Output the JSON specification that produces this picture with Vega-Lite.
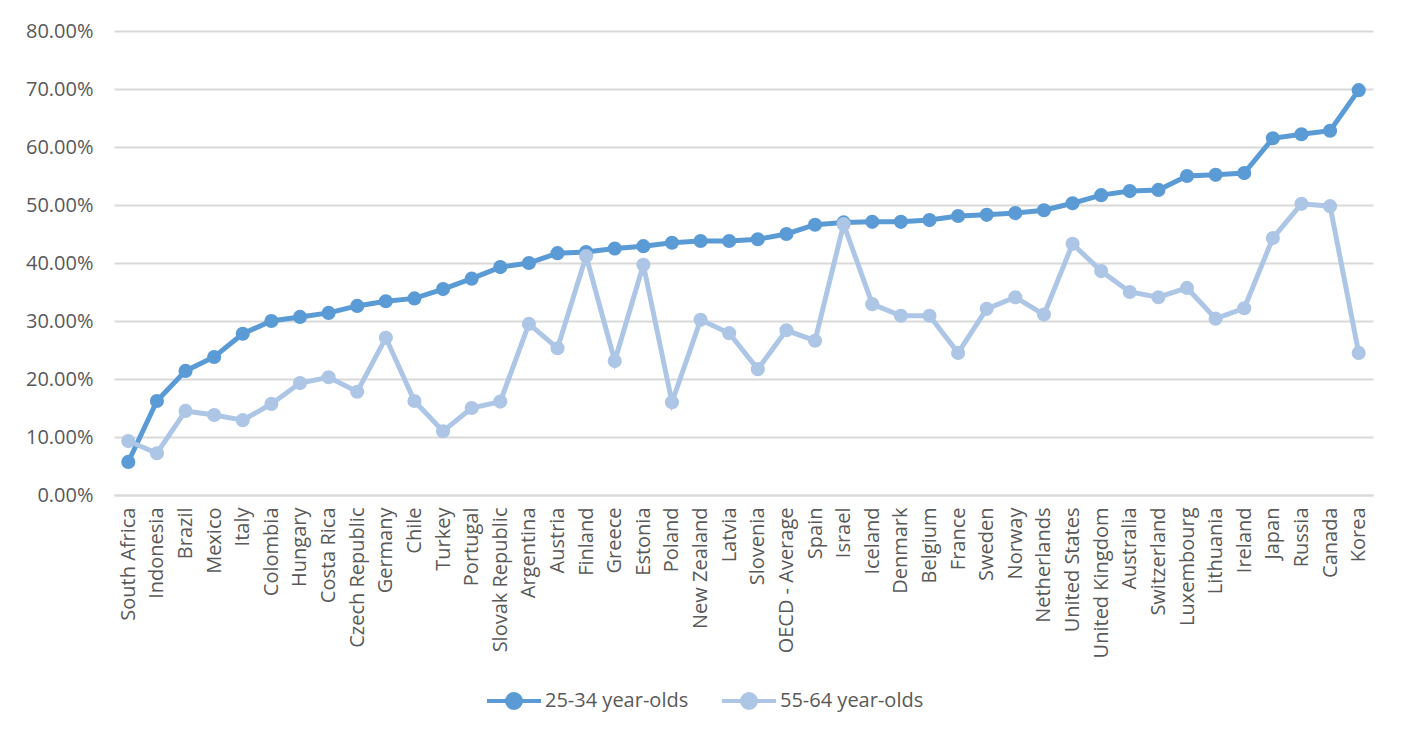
{
  "$schema": "https://vega.github.io/schema/vega-lite/v6.json",
  "width": 1259,
  "height": 464,
  "autosize": {"type": "none"},
  "padding": {"left": 114, "top": 31, "right": 29, "bottom": 243},
  "background": "white",
  "config": {
    "font": "Open Sans",
    "view": {"stroke": null}
  },
  "data": {
    "values": [
      {"country": "South Africa", "series": "25-34 year-olds", "value": 0.057},
      {"country": "Indonesia", "series": "25-34 year-olds", "value": 0.162},
      {"country": "Brazil", "series": "25-34 year-olds", "value": 0.214},
      {"country": "Mexico", "series": "25-34 year-olds", "value": 0.238},
      {"country": "Italy", "series": "25-34 year-olds", "value": 0.278},
      {"country": "Colombia", "series": "25-34 year-olds", "value": 0.300},
      {"country": "Hungary", "series": "25-34 year-olds", "value": 0.307},
      {"country": "Costa Rica", "series": "25-34 year-olds", "value": 0.314},
      {"country": "Czech Republic", "series": "25-34 year-olds", "value": 0.326},
      {"country": "Germany", "series": "25-34 year-olds", "value": 0.334},
      {"country": "Chile", "series": "25-34 year-olds", "value": 0.339},
      {"country": "Turkey", "series": "25-34 year-olds", "value": 0.355},
      {"country": "Portugal", "series": "25-34 year-olds", "value": 0.373},
      {"country": "Slovak Republic", "series": "25-34 year-olds", "value": 0.393},
      {"country": "Argentina", "series": "25-34 year-olds", "value": 0.400},
      {"country": "Austria", "series": "25-34 year-olds", "value": 0.417},
      {"country": "Finland", "series": "25-34 year-olds", "value": 0.419},
      {"country": "Greece", "series": "25-34 year-olds", "value": 0.425},
      {"country": "Estonia", "series": "25-34 year-olds", "value": 0.429},
      {"country": "Poland", "series": "25-34 year-olds", "value": 0.435},
      {"country": "New Zealand", "series": "25-34 year-olds", "value": 0.438},
      {"country": "Latvia", "series": "25-34 year-olds", "value": 0.438},
      {"country": "Slovenia", "series": "25-34 year-olds", "value": 0.441},
      {"country": "OECD - Average", "series": "25-34 year-olds", "value": 0.450},
      {"country": "Spain", "series": "25-34 year-olds", "value": 0.466},
      {"country": "Israel", "series": "25-34 year-olds", "value": 0.470},
      {"country": "Iceland", "series": "25-34 year-olds", "value": 0.471},
      {"country": "Denmark", "series": "25-34 year-olds", "value": 0.471},
      {"country": "Belgium", "series": "25-34 year-olds", "value": 0.474},
      {"country": "France", "series": "25-34 year-olds", "value": 0.481},
      {"country": "Sweden", "series": "25-34 year-olds", "value": 0.483},
      {"country": "Norway", "series": "25-34 year-olds", "value": 0.486},
      {"country": "Netherlands", "series": "25-34 year-olds", "value": 0.491},
      {"country": "United States", "series": "25-34 year-olds", "value": 0.503},
      {"country": "United Kingdom", "series": "25-34 year-olds", "value": 0.517},
      {"country": "Australia", "series": "25-34 year-olds", "value": 0.524},
      {"country": "Switzerland", "series": "25-34 year-olds", "value": 0.526},
      {"country": "Luxembourg", "series": "25-34 year-olds", "value": 0.550},
      {"country": "Lithuania", "series": "25-34 year-olds", "value": 0.552},
      {"country": "Ireland", "series": "25-34 year-olds", "value": 0.555},
      {"country": "Japan", "series": "25-34 year-olds", "value": 0.615},
      {"country": "Russia", "series": "25-34 year-olds", "value": 0.622},
      {"country": "Canada", "series": "25-34 year-olds", "value": 0.628},
      {"country": "Korea", "series": "25-34 year-olds", "value": 0.698},
      {"country": "South Africa", "series": "55-64 year-olds", "value": 0.093},
      {"country": "Indonesia", "series": "55-64 year-olds", "value": 0.072},
      {"country": "Brazil", "series": "55-64 year-olds", "value": 0.145},
      {"country": "Mexico", "series": "55-64 year-olds", "value": 0.138},
      {"country": "Italy", "series": "55-64 year-olds", "value": 0.129},
      {"country": "Colombia", "series": "55-64 year-olds", "value": 0.157},
      {"country": "Hungary", "series": "55-64 year-olds", "value": 0.193},
      {"country": "Costa Rica", "series": "55-64 year-olds", "value": 0.203},
      {"country": "Czech Republic", "series": "55-64 year-olds", "value": 0.178},
      {"country": "Germany", "series": "55-64 year-olds", "value": 0.271},
      {"country": "Chile", "series": "55-64 year-olds", "value": 0.162},
      {"country": "Turkey", "series": "55-64 year-olds", "value": 0.110},
      {"country": "Portugal", "series": "55-64 year-olds", "value": 0.150},
      {"country": "Slovak Republic", "series": "55-64 year-olds", "value": 0.161},
      {"country": "Argentina", "series": "55-64 year-olds", "value": 0.295},
      {"country": "Austria", "series": "55-64 year-olds", "value": 0.253},
      {"country": "Finland", "series": "55-64 year-olds", "value": 0.412},
      {"country": "Greece", "series": "55-64 year-olds", "value": 0.231},
      {"country": "Estonia", "series": "55-64 year-olds", "value": 0.397},
      {"country": "Poland", "series": "55-64 year-olds", "value": 0.160},
      {"country": "New Zealand", "series": "55-64 year-olds", "value": 0.302},
      {"country": "Latvia", "series": "55-64 year-olds", "value": 0.279},
      {"country": "Slovenia", "series": "55-64 year-olds", "value": 0.217},
      {"country": "OECD - Average", "series": "55-64 year-olds", "value": 0.284},
      {"country": "Spain", "series": "55-64 year-olds", "value": 0.266},
      {"country": "Israel", "series": "55-64 year-olds", "value": 0.467},
      {"country": "Iceland", "series": "55-64 year-olds", "value": 0.329},
      {"country": "Denmark", "series": "55-64 year-olds", "value": 0.309},
      {"country": "Belgium", "series": "55-64 year-olds", "value": 0.309},
      {"country": "France", "series": "55-64 year-olds", "value": 0.245},
      {"country": "Sweden", "series": "55-64 year-olds", "value": 0.321},
      {"country": "Norway", "series": "55-64 year-olds", "value": 0.341},
      {"country": "Netherlands", "series": "55-64 year-olds", "value": 0.311},
      {"country": "United States", "series": "55-64 year-olds", "value": 0.433},
      {"country": "United Kingdom", "series": "55-64 year-olds", "value": 0.386},
      {"country": "Australia", "series": "55-64 year-olds", "value": 0.350},
      {"country": "Switzerland", "series": "55-64 year-olds", "value": 0.341},
      {"country": "Luxembourg", "series": "55-64 year-olds", "value": 0.357},
      {"country": "Lithuania", "series": "55-64 year-olds", "value": 0.304},
      {"country": "Ireland", "series": "55-64 year-olds", "value": 0.322},
      {"country": "Japan", "series": "55-64 year-olds", "value": 0.443},
      {"country": "Russia", "series": "55-64 year-olds", "value": 0.502},
      {"country": "Canada", "series": "55-64 year-olds", "value": 0.498},
      {"country": "Korea", "series": "55-64 year-olds", "value": 0.245}
    ]
  },
  "mark": {"type": "line", "strokeWidth": 5, "point": {"filled": true, "size": 200, "opacity": 1}},
  "encoding": {
    "x": {
      "field": "country", "type": "nominal", "sort": null,
      "scale": {"paddingInner": 0, "paddingOuter": 0.5},
      "axis": {"title": null, "labelAngle": -90, "labelAlign": "right", "labelBaseline": "middle", "labelPadding": 12, "labelFontSize": 20, "labelColor": "#595959", "labelFont": "Open Sans", "ticks": false, "domainColor": "#D9D9D9", "domainWidth": 2, "grid": false, "labelOverlap": false}
    },
    "y": {
      "field": "value", "type": "quantitative",
      "scale": {"domain": [0, 0.8]},
      "axis": {"title": null, "format": ".2%", "values": [0, 0.1, 0.2, 0.3, 0.4, 0.5, 0.6, 0.7, 0.8], "labelOverlap": false, "labelFontSize": 20, "labelColor": "#595959", "labelFont": "Open Sans", "domain": false, "ticks": false, "labelPadding": 21, "gridColor": "#D9D9D9", "gridWidth": 2}
    },
    "color": {
      "field": "series", "type": "nominal",
      "scale": {"domain": ["25-34 year-olds", "55-64 year-olds"], "range": ["#5B9BD5", "#ADC6E6"]},
      "legend": {
        "title": null, "orient": "none", "direction": "horizontal",
        "legendX": 390, "legendY": 660,
        "labelFontSize": 20, "labelColor": "#595959", "labelFont": "Open Sans",
        "symbolType": "M-3.86,0H3.86M1,0A1,1 0 1,1 -1,0A1,1 0 1,1 1,0Z",
        "symbolSize": 196, "symbolStrokeWidth": 4, "symbolFillColor": null,
        "columnPadding": 24, "labelOffset": 21
      }
    },
    "order": {"field": "series", "type": "nominal"}
  }
}
